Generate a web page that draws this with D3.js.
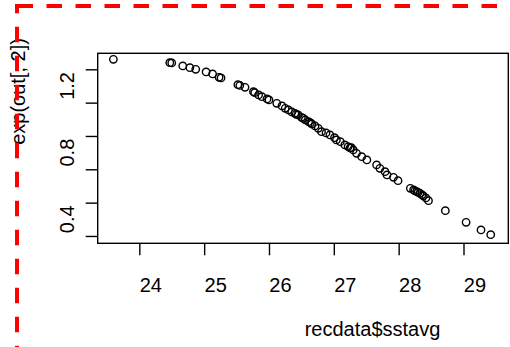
<!DOCTYPE html>
<html>
<head>
<meta charset="utf-8">
<script src="https://cdn.jsdelivr.net/npm/d3@7"></script>
<style>
  body { margin: 0; background: #fff; }
  svg { display: block; font-family: 'Liberation Sans', Arial, sans-serif; }
</style>
</head>
<body>
<div class="scatter-chart"></div>
<script>
// recdata$sstavg vs exp(out[, 2])
const sstavg = [
  23.6, 24.47, 24.5, 24.67, 24.78, 24.87, 25.03, 25.13, 25.23, 25.26,
  25.52, 25.55, 25.63, 25.76, 25.78, 25.84, 25.89, 25.97, 26.0, 26.12,
  26.2, 26.25, 26.3, 26.35, 26.4, 26.45, 26.5, 26.56, 26.61, 26.66,
  26.71, 26.76, 26.81, 26.88, 26.94, 27.04, 27.1, 27.17, 27.22, 27.25,
  27.3, 27.35, 27.43, 27.51, 27.66, 27.71, 27.79, 27.82, 27.92, 27.99,
  28.18, 28.23, 28.28, 28.3, 28.33, 28.38, 28.42, 28.46, 28.72, 29.04,
  29.27, 29.42, 26.42, 26.53, 26.64, 27.01, 27.27, 28.25, 28.36
];
const expOut2 = [
  1.36, 1.34, 1.338, 1.32, 1.31, 1.3, 1.284, 1.272, 1.252, 1.248,
  1.208, 1.203, 1.192, 1.166, 1.16, 1.146, 1.136, 1.122, 1.116, 1.096,
  1.08, 1.066, 1.056, 1.044, 1.036, 1.026, 1.012, 0.996, 0.986, 0.972,
  0.96, 0.946, 0.926, 0.918, 0.906, 0.876, 0.866, 0.846, 0.836, 0.828,
  0.816, 0.796, 0.776, 0.756, 0.726, 0.706, 0.686, 0.666, 0.652, 0.632,
  0.586, 0.576, 0.566, 0.561, 0.556, 0.54, 0.528, 0.512, 0.452, 0.382,
  0.336, 0.308, 1.03, 1.006, 0.978, 0.89, 0.83, 0.57, 0.547
];
const xTicks = [24, 25, 26, 27, 28, 29];
const yTicks = [0.3, 0.5, 0.7, 0.9, 1.1, 1.3];
const yLabels = [0.4, 0.8, 1.2];

const containerWidth = 510;
const containerHeight = 347;
const box = { left: 97.7, right: 508.3, top: 53.3, bottom: 243.3 };

const svg = d3
  .select('.scatter-chart')
  .append('svg')
  .attr('width', containerWidth)
  .attr('height', containerHeight);

const x = d3.scaleLinear().domain([23.358, 29.691]).range([box.left, box.right]);
const y = d3.scaleLinear().domain([0.256, 1.396]).range([box.bottom, box.top]);

// plot frame
svg
  .append('rect')
  .attr('x', box.left)
  .attr('y', box.top)
  .attr('width', box.right - box.left)
  .attr('height', box.bottom - box.top)
  .attr('fill', 'none')
  .attr('stroke', '#000')
  .attr('stroke-width', 1.4);

const xAxis = d3
  .axisBottom(x)
  .tickValues(xTicks)
  .tickSize(12)
  .tickSizeOuter(0)
  .tickPadding(22.5)
  .tickFormat(d3.format('d'));

const xAxisGroup = svg
  .append('g')
  .attr('transform', `translate(0, ${box.bottom})`)
  .call(xAxis);
xAxisGroup.select('.domain').remove();
xAxisGroup.selectAll('line').attr('stroke', '#000').attr('stroke-width', 1.4);
xAxisGroup
  .selectAll('text')
  .attr('dx', 11)
  .attr('fill', '#000')
  .style('font-size', '20px')
  .style('font-family', "'Liberation Sans', Arial, sans-serif");

const yAxis = d3
  .axisLeft(y)
  .tickValues(yTicks)
  .tickSize(12)
  .tickSizeOuter(0)
  .tickFormat('');

const yAxisGroup = svg
  .append('g')
  .attr('transform', `translate(${box.left}, 0)`)
  .call(yAxis);
yAxisGroup.select('.domain').remove();
yAxisGroup.selectAll('line').attr('stroke', '#000').attr('stroke-width', 1.4);

svg
  .append('g')
  .selectAll('text')
  .data(yLabels)
  .enter()
  .append('text')
  .attr('transform', (d) => `translate(73.5, ${y(d)}) rotate(-90)`)
  .attr('text-anchor', 'middle')
  .style('font-size', '20px')
  .attr('fill', '#000')
  .text((d) => d.toFixed(1));

// points
svg
  .append('g')
  .selectAll('circle')
  .data(sstavg)
  .enter()
  .append('circle')
  .attr('cx', (d) => x(d))
  .attr('cy', (d, i) => y(expOut2[i]))
  .attr('r', 3.7)
  .attr('fill', 'none')
  .attr('stroke', '#000')
  .attr('stroke-width', 1.4);

// axis titles
svg
  .append('text')
  .attr('x', 372.5)
  .attr('y', 336)
  .attr('text-anchor', 'middle')
  .style('font-size', '20px')
  .attr('fill', '#000')
  .text('recdata$sstavg');

svg
  .append('text')
  .attr('transform', 'translate(25, 91.5) rotate(-90)')
  .attr('text-anchor', 'middle')
  .style('font-size', '20px')
  .attr('fill', '#000')
  .text('exp(out[, 2])');

// red dashed frame
svg
  .append('line')
  .attr('x1', 17.5)
  .attr('y1', 6)
  .attr('x2', containerWidth + 10)
  .attr('y2', 6)
  .attr('stroke', '#ff0000')
  .attr('stroke-width', 4)
  .attr('stroke-dasharray', '15.5,13.5');

svg
  .append('line')
  .attr('x1', 17)
  .attr('y1', 4)
  .attr('x2', 17)
  .attr('y2', containerHeight + 10)
  .attr('stroke', '#ff0000')
  .attr('stroke-width', 4)
  .attr('stroke-dasharray', '15.5,13.5')
  .attr('stroke-dashoffset', 6.3);
</script>
</body>
</html>
